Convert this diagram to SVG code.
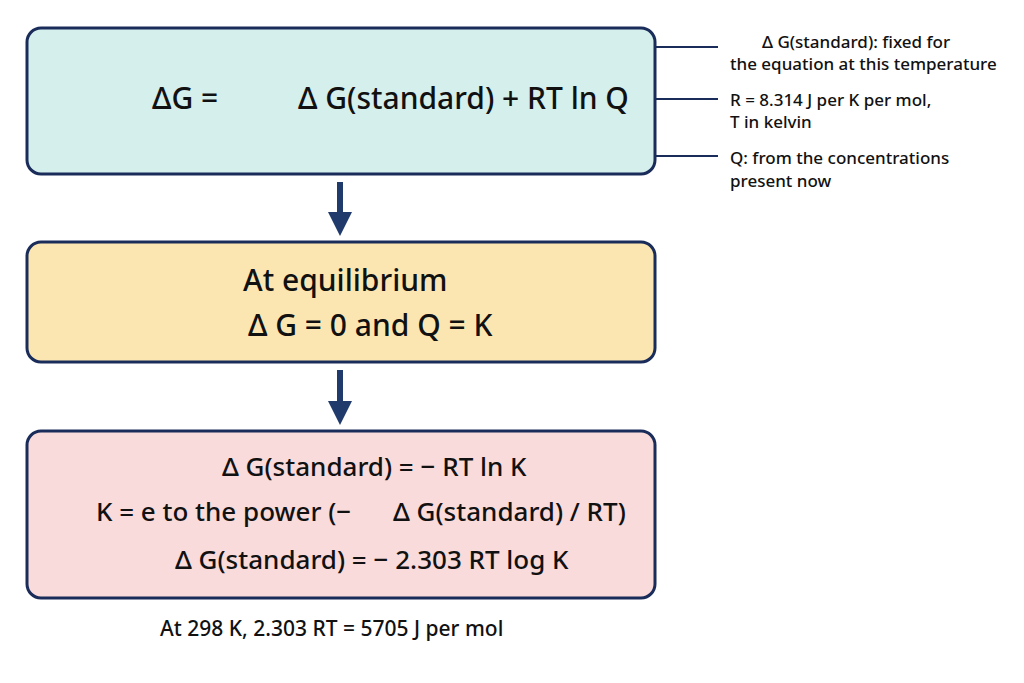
<svg xmlns="http://www.w3.org/2000/svg" width="1024" height="683" viewBox="0 0 1024 683">
<style>
.box{stroke:#1a2d5a;stroke-width:3}
text{font-family:"Noto Sans","Liberation Sans",sans-serif;fill:#111}
.big{font-size:30px;font-weight:500}
.mid{font-size:26px;font-weight:500}
.sm{font-size:17px;font-weight:500}
.ln{stroke:#1a2d5a;stroke-width:2;fill:none}
.ar{stroke:#1f3a6b;stroke-width:6}
</style>
<defs><marker id="ah" markerWidth="4" markerHeight="4" refX="2" refY="2" orient="auto" markerUnits="strokeWidth"><path d="M0,0 L4,2 L0,4 Z" fill="#1f3a6b"/></marker></defs>
<rect width="1024" height="683" fill="#fff"/>
<g id="connectors">
<line class="ar" x1="340" y1="182" x2="340" y2="224" marker-end="url(#ah)"/>
<line class="ar" x1="340" y1="370" x2="340" y2="413" marker-end="url(#ah)"/>
<line class="ln" x1="655" y1="47" x2="718" y2="47"/>
<line class="ln" x1="655" y1="99" x2="718" y2="99"/>
<line class="ln" x1="655" y1="156" x2="718" y2="156"/>
</g>
<g id="n1">
<rect class="box" x="27" y="28" width="628" height="146" rx="14" fill="#d5efed"/>
<text class="big" x="152" y="109">ΔG =</text>
<text class="big" x="298" y="109">Δ G(standard) + RT ln Q</text>
</g>
<g id="n2">
<rect class="box" x="27" y="242" width="628" height="120" rx="14" fill="#fbe6b2"/>
<text class="big" x="243" y="291">At equilibrium</text>
<text class="big" x="248" y="336">Δ G = 0 and Q = K</text>
</g>
<g id="n3">
<rect class="box" x="27" y="431" width="628" height="167" rx="14" fill="#f9dbdb"/>
<text class="mid" x="222" y="476">Δ G(standard) = − RT ln K</text>
<text class="mid" x="96" y="521">K = e to the power (−</text>
<text class="mid" x="393" y="521">Δ G(standard) / RT)</text>
<text class="mid" x="175" y="569">Δ G(standard) = − 2.303 RT log K</text>
</g>
<g id="notes">
<text class="sm" x="160" y="636" style="font-size:21px">At 298 K, 2.303 RT = 5705 J per mol</text>
<text class="sm" x="762" y="48">Δ G(standard): fixed for</text>
<text class="sm" x="730" y="70">the equation at this temperature</text>
<text class="sm" x="730" y="106">R = 8.314 J per K per mol,</text>
<text class="sm" x="730" y="128">T in kelvin</text>
<text class="sm" x="730" y="164">Q: from the concentrations</text>
<text class="sm" x="730" y="187">present now</text>
</g>
</svg>
